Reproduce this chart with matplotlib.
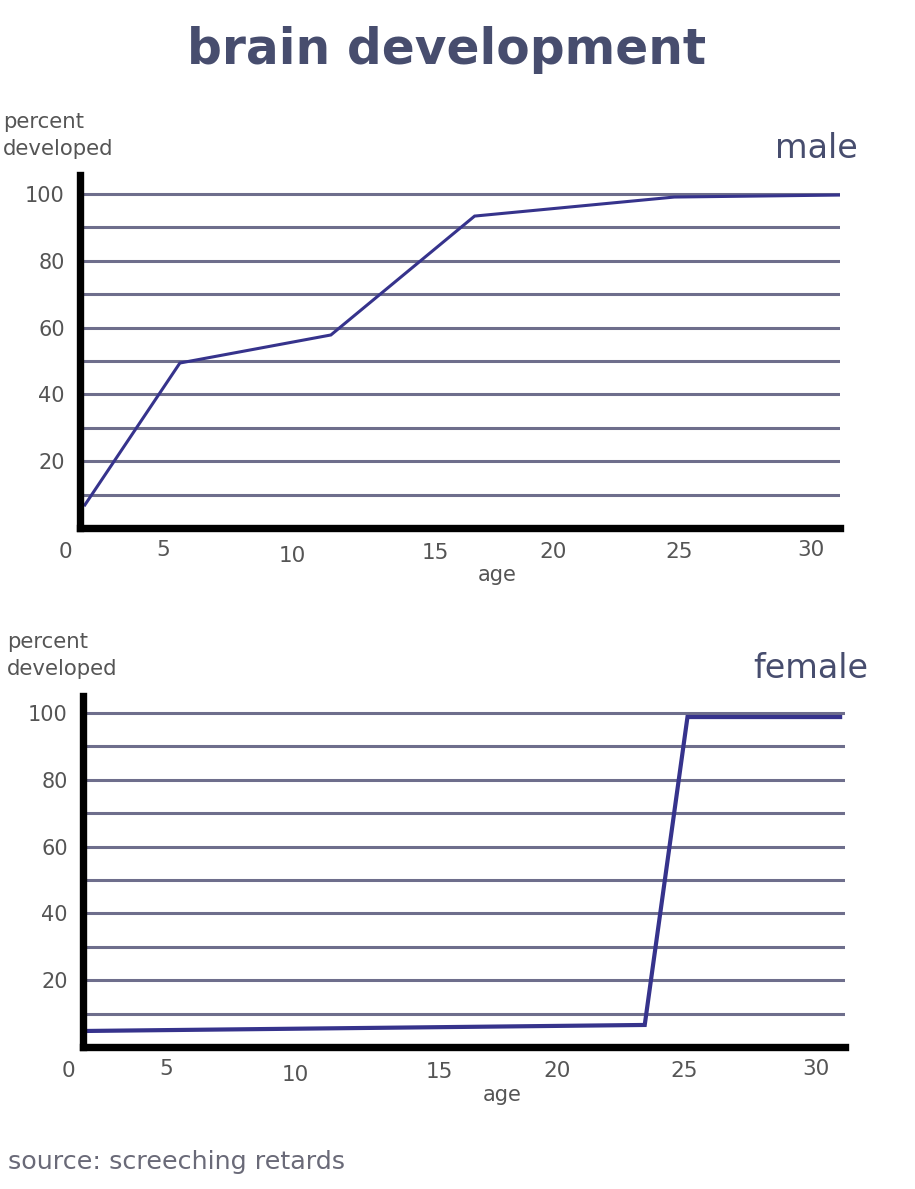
import matplotlib.pyplot as plt
import matplotlib.transforms as mtransforms

# male curve (age, percent developed)
male_age = [0.2, 4.1, 10.3, 16.2, 24.4, 31.2]
male_pct = [6.9, 49.4, 57.8, 93.4, 99.1, 99.7]

# female curve
female_age = [0.1, 23.0, 24.75, 31.0]
female_pct = [4.8, 6.6, 98.8, 98.8]

# hand-placed x tick labels (ages where the labels sit in the original)
xtick_labels = ["0", "5", "10", "15", "20", "25", "30"]
xtick_pos = [-0.6, 3.4, 8.7, 14.6, 19.4, 24.6, 30.0]
xtick_dy = [0, 2, -4, -1, 0, 0, 2]
grid_levels = [10, 20, 30, 40, 50, 60, 70, 80, 90, 100]
ytick_labels = {20: "20", 40: "40", 60: "60", 80: "80", 100: "100"}

title_col = "#474d6e"
grid_col = "#6e6e8c"
line_col = "#36338c"
text_col = "#555555"

W, H = 915, 1189
fig = plt.figure(figsize=(W / 100, H / 100), dpi=100)
plt.rcParams['font.family'] = ['DejaVu Sans']


def px_box(left, top, right, bottom):
    return [left / W, 1 - bottom / H, (right - left) / W, (bottom - top) / H]


def drawPanel(rect, ages, pcts, ymax, lw, label, label_xy, ylab_xy, age_xy):
    ax = fig.add_axes(rect)
    ax.set_xlim(0, 31.2)
    ax.set_ylim(0, ymax)
    for s in ["top", "right"]:
        ax.spines[s].set_visible(False)
    for s in ["left", "bottom"]:
        ax.spines[s].set_linewidth(5.3)
        ax.spines[s].set_color("black")
        ax.spines[s].set_capstyle("projecting")
        ax.spines[s].set_zorder(5)

    ax.set_yticks(grid_levels)
    ax.set_yticklabels([ytick_labels.get(v, "") for v in grid_levels])
    ax.tick_params(axis="y", length=0, pad=11, labelsize=15, labelcolor=text_col)
    ax.set_xticks([])
    ax.yaxis.grid(True, color=grid_col, linewidth=2.2)
    ax.set_axisbelow(True)

    ax.plot(ages, pcts, color=line_col, linewidth=lw, zorder=3,
            solid_joinstyle="miter")

    trans = mtransforms.blended_transform_factory(ax.transData, ax.transAxes)
    for pos, lab, dy in zip(xtick_pos, xtick_labels, xtick_dy):
        off = mtransforms.offset_copy(trans, fig=fig, x=0, y=(-24 + dy) * 0.72,
                                      units="points")
        ax.text(pos, 0, lab, transform=off, ha="center", va="center",
                fontsize=15.5, color=text_col, clip_on=False)

    fig.text(age_xy[0] / W, 1 - age_xy[1] / H, "age", ha="center", va="center",
             fontsize=15, color=text_col)
    fig.text(ylab_xy[0] / W, 1 - ylab_xy[1] / H, "percent\ndeveloped",
             ha="left", va="top", fontsize=15.3, color=text_col, linespacing=1.45)
    fig.text(label_xy[0] / W, 1 - label_xy[1] / H, label, ha="right",
             va="center", fontsize=24, color=title_col)
    return ax


fig.text(447 / W, 1 - 50 / H, "brain development", ha="center", va="center",
         fontsize=35, fontweight="bold", color=title_col)

drawPanel(px_box(80, 175, 840, 528), male_age, male_pct, 105.7, 2.2,
          "male", (858, 148), (3, 112), (497, 575))
drawPanel(px_box(83, 696, 845, 1047), female_age, female_pct, 105.1, 3.0,
          "female", (868, 668), (7, 632), (502, 1095))

fig.text(8 / W, 1 - 1162 / H, "source: screeching retards", ha="left",
         va="center", fontsize=18.3, color="#6a6a78")

fig.savefig("out.png", dpi=100, facecolor="white")
